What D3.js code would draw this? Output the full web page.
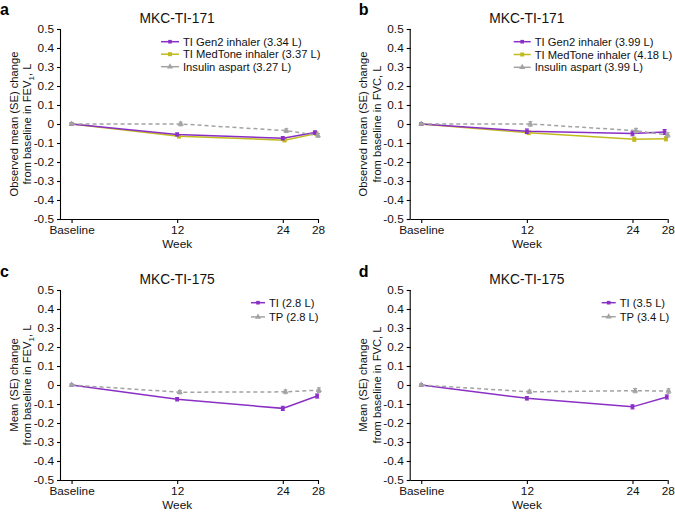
<!DOCTYPE html>
<html><head><meta charset="utf-8">
<script src="https://cdn.jsdelivr.net/npm/d3@7/dist/d3.min.js"></script>
<style>body{margin:0;background:#fff}svg{display:block;font-family:"Liberation Sans",Arial,sans-serif}</style>
</head><body>
<svg id="c" width="675" height="513"></svg>
<script>
// ---- data ----
const weeks = [0, 12, 24, 28];
const weekLabels = ["Baseline", "12", "24", "28"];
const yTicks = [0.5, 0.4, 0.3, 0.2, 0.1, 0, -0.1, -0.2, -0.3, -0.4, -0.5];

// plotted x positions (weeks, slightly dodged as in original)
const gen2X = [0, 12, 24, 27.65];
const medX  = [0, 12.2, 24.2, 27.8];
const aspX  = [0, 12.4, 24.4, 28];
const tiX   = [0, 12, 24, 27.9];
const tpX   = [0, 12.3, 24.3, 28.1];

// panel a: FEV1, MKC-TI-171
const aGen2 = [0, -0.055, -0.075, -0.045];
const aGen2SE = [0, 0.008, 0.009, 0.009];
const aMed = [0, -0.065, -0.085, -0.05];
const aMedSE = [0, 0.008, 0.009, 0.009];
const aAsp = [0, 0.0, -0.035, -0.06];
const aAspSE = [0, 0.01, 0.01, 0.01];

// panel b: FVC, MKC-TI-171
const bGen2 = [0, -0.038, -0.05, -0.042];
const bGen2SE = [0, 0.012, 0.012, 0.013];
const bMed = [0, -0.046, -0.08, -0.078];
const bMedSE = [0, 0.01, 0.011, 0.011];
const bAsp = [0, 0.0, -0.035, -0.058];
const bAspSE = [0, 0.012, 0.012, 0.012];

// panel c: FEV1, MKC-TI-175
const cTI = [0, -0.075, -0.123, -0.058];
const cTISE = [0, 0.009, 0.011, 0.011];
const cTP = [0, -0.038, -0.036, -0.027];
const cTPSE = [0, 0.009, 0.01, 0.012];

// panel d: FVC, MKC-TI-175
const dTI = [0, -0.07, -0.115, -0.063];
const dTISE = [0, 0.009, 0.011, 0.011];
const dTP = [0, -0.036, -0.03, -0.032];
const dTPSE = [0, 0.009, 0.011, 0.012];

const PURPLE = "#8a2fc6", YELLOW = "#c2bb1e", GRAY = "#a3a3a3";
const FONT = "'Liberation Sans', Arial, sans-serif";

const panels = [
  {letter:"a", ox:61, oy:29, title:"MKC-TI-171", ylab:["Observed mean (SE) change","from baseline in FEV","1",", L"],
   legendX:100, legendDY:12.5, legendW:18,
   series:[
    {name:"TI MedTone inhaler (3.37 L)", x:medX, y:aMed, se:aMedSE, color:YELLOW, shape:"square", dash:null, leg:1},
    {name:"TI Gen2 inhaler (3.34 L)", x:gen2X, y:aGen2, se:aGen2SE, color:PURPLE, shape:"circle", dash:null, leg:0},
    {name:"Insulin aspart (3.27 L)", x:aspX, y:aAsp, se:aAspSE, color:GRAY, shape:"triangle", dash:"4,3", leg:2}]},
  {letter:"b", ox:410.7, oy:29, title:"MKC-TI-171", ylab:["Observed mean (SE) change","from baseline in FVC, L"],
   legendX:103, legendDY:12.8, legendW:17,
   series:[
    {name:"TI MedTone inhaler (4.18 L)", x:medX, y:bMed, se:bMedSE, color:YELLOW, shape:"square", dash:null, leg:1},
    {name:"TI Gen2 inhaler (3.99 L)", x:gen2X, y:bGen2, se:bGen2SE, color:PURPLE, shape:"circle", dash:null, leg:0},
    {name:"Insulin aspart (3.99 L)", x:aspX, y:bAsp, se:bAspSE, color:GRAY, shape:"triangle", dash:"4,3", leg:2}]},
  {letter:"c", ox:61, oy:290, title:"MKC-TI-175", ylab:["Mean (SE) change","from baseline in FEV","1",", L"],
   legendX:190, legendDY:14.2, legendW:14,
   series:[
    {name:"TI (2.8 L)", x:tiX, y:cTI, se:cTISE, color:PURPLE, shape:"circle", dash:null, leg:0},
    {name:"TP (2.8 L)", x:tpX, y:cTP, se:cTPSE, color:GRAY, shape:"triangle", dash:"4,3", leg:1}]},
  {letter:"d", ox:410.7, oy:290, title:"MKC-TI-175", ylab:["Mean (SE) change","from baseline in FVC, L"],
   legendX:191, legendDY:14, legendW:14,
   series:[
    {name:"TI (3.5 L)", x:tiX, y:dTI, se:dTISE, color:PURPLE, shape:"circle", dash:null, leg:0},
    {name:"TP (3.4 L)", x:tpX, y:dTP, se:dTPSE, color:GRAY, shape:"triangle", dash:"4,3", leg:1}]}
];

const svg = d3.select("#c");
const W = 257, H = 190;

function marker(g, shape, cx, cy, color) {
  if (shape === "square") {
    g.append("rect").attr("x", cx-2).attr("y", cy-2).attr("width", 4).attr("height", 4).attr("fill", color);
  } else if (shape === "circle") {
    g.append("rect").attr("x", cx-1.8).attr("y", cy-1.8).attr("width", 3.6).attr("height", 3.6).attr("fill", color);
  } else {
    g.append("path").attr("d", d3.symbol(d3.symbolTriangle, 16)()).attr("transform", `translate(${cx},${cy})`).attr("fill", color);
  }
}

panels.forEach(p => {
  const g = svg.append("g").attr("transform", `translate(${p.ox},${p.oy})`);
  const x = d3.scaleLinear().domain([-1.2, 28]).range([0, W]);
  const y = d3.scaleLinear().domain([-0.5, 0.5]).range([H, 0]);

  // axes
  const ya = g.append("g").call(d3.axisLeft(y).tickValues(yTicks).tickSize(4).tickPadding(3)
    .tickFormat(d => d === 0 ? "0" : d3.format(".1f")(d).replace("−", "-")));
  const xa = g.append("g").attr("transform", `translate(0,${H})`)
    .call(d3.axisBottom(x).tickValues(weeks).tickSize(4).tickPadding(3).tickFormat((d, i) => weekLabels[i]));
  [ya, xa].forEach(a => {
    a.select(".domain").attr("stroke", "#000").attr("stroke-width", 1.1);
    a.selectAll(".tick line").attr("stroke", "#000").attr("stroke-width", 1.1);
    a.selectAll("text").attr("font-size", 11.8).attr("fill", "#111").attr("font-family", FONT);
  });
  ya.select(".domain").attr("d", `M-0.5,0V${H}`);
  xa.select(".domain").attr("d", `M0,0.5H${W}`);

  // labels
  g.append("text").attr("x", x(12)).attr("y", H + 29).attr("text-anchor", "middle")
    .attr("font-size", 11.8).attr("fill", "#111").attr("font-family", FONT).text("Week");
  g.append("text").attr("x", x(12)).attr("y", -6).attr("text-anchor", "middle")
    .attr("font-size", 13.8).attr("fill", "#111").attr("font-family", FONT).text(p.title);
  svg.append("text").attr("x", p.ox - (p.ox > 300 ? 52 : 61)).attr("y", p.oy - 14 + (p.oy > 200 ? 1 : 0))
    .attr("font-size", 16).attr("font-weight", "bold").attr("fill", "#000").attr("font-family", FONT).text(p.letter);

  const yc = H / 2;
  const yl = g.append("text").attr("transform", `translate(-30,${yc}) rotate(-90)`)
    .attr("text-anchor", "middle").attr("font-size", 11.2).attr("fill", "#111").attr("font-family", FONT);
  yl.append("tspan").attr("x", 0).attr("dy", -13.5).text(p.ylab[0]);
  const l2 = yl.append("tspan").attr("x", 0).attr("dy", 13.5);
  l2.text(p.ylab[1]);
  if (p.ylab.length > 2) {
    yl.append("tspan").attr("font-size", 8).attr("dy", 3).text(p.ylab[2]);
    yl.append("tspan").attr("dy", -3).text(p.ylab[3]);
  }

  // series
  const line = (s) => d3.line().x((d, i) => x(s.x[i])).y(d => y(d))(s.y);
  p.series.forEach(s => {
    const sg = g.append("g");
    sg.append("path").attr("d", line(s)).attr("fill", "none").attr("stroke", s.color)
      .attr("stroke-width", 1.5).attr("stroke-dasharray", s.dash);
    s.y.forEach((v, i) => {
      if (s.se[i] > 0) {
        const xx = x(s.x[i]);
        sg.append("path").attr("d", `M${xx},${y(v - s.se[i])}V${y(v + s.se[i])}M${xx-2},${y(v - s.se[i])}H${xx+2}M${xx-2},${y(v + s.se[i])}H${xx+2}`)
          .attr("stroke", s.color).attr("stroke-width", 1).attr("fill", "none");
      }
      marker(sg, s.shape, x(s.x[i]), y(v), s.color);
    });
  });

  // legend
  const order = p.series.slice().sort((a, b) => a.leg - b.leg);
  order.forEach((s, k) => {
    const ly = 12.7 + k * p.legendDY;
    const lg = g.append("g");
    lg.append("line").attr("x1", p.legendX).attr("x2", p.legendX + p.legendW).attr("y1", ly).attr("y2", ly)
      .attr("stroke", s.color).attr("stroke-width", 1.5);
    marker(lg, s.shape, p.legendX + p.legendW / 2, ly, s.color);
    lg.append("text").attr("x", p.legendX + p.legendW + 4).attr("y", ly + 4).attr("font-size", 11.2)
      .attr("fill", "#111").attr("font-family", FONT).text(s.name);
  });
});
</script>
</body></html>
